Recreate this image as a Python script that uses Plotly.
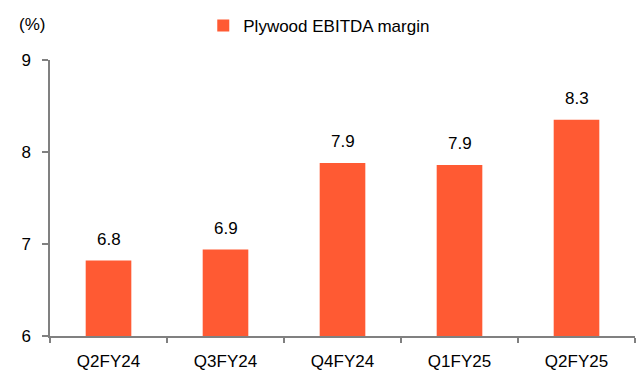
import plotly.graph_objects as go

# Quarterly plywood EBITDA margin (%)
quarters = ["Q2FY24", "Q3FY24", "Q4FY24", "Q1FY25", "Q2FY25"]
margin_pct = [6.82, 6.94, 7.88, 7.86, 8.35]
y_ticks = [6, 7, 8, 9]

BAR_COLOR = "#FF5A33"
AXIS_COLOR = "#808080"
FONT = "Liberation Sans, Arial, sans-serif"
FSIZE = 17

fig = go.Figure()
fig.add_trace(go.Bar(
    x=quarters,
    y=margin_pct,
    name="Plywood EBITDA margin",
    marker=dict(color=BAR_COLOR, line=dict(width=0)),
    width=0.39,
    showlegend=True,
))

# Value labels above each bar, rounded to one decimal
for q, v in zip(quarters, margin_pct):
    fig.add_annotation(
        x=q, y=v, text=f"{v:.1f}", showarrow=False,
        xref="x", yref="y", yanchor="bottom", yshift=10,
        font=dict(family=FONT, size=FSIZE, color="#000000"),
    )

# Unit label above the y axis
fig.add_annotation(
    x=-0.0564, y=1.13, xref="paper", yref="paper",
    xanchor="left", yanchor="middle", text="(%)", showarrow=False,
    font=dict(family=FONT, size=FSIZE, color="#000000"),
)

fig.update_layout(
    width=642, height=378,
    margin=dict(l=50, r=7, t=60, b=34),
    paper_bgcolor="white", plot_bgcolor="white",
    font=dict(family=FONT, size=FSIZE, color="#000000"),
    bargap=0.61,
    legend=dict(
        orientation="h", x=0.262, xanchor="left", y=1.123, yanchor="middle",
        font=dict(family=FONT, size=FSIZE, color="#000000"),
        bgcolor="rgba(0,0,0,0)",
    ),
    xaxis=dict(
        type="category",
        showline=True, linecolor=AXIS_COLOR, linewidth=1.5,
        ticks="outside", tickson="boundaries", ticklen=5,
        tickcolor=AXIS_COLOR, tickwidth=1.5,
        ticklabelstandoff=9,
        showgrid=False, zeroline=False,
        tickfont=dict(family=FONT, size=FSIZE, color="#000000"),
    ),
    yaxis=dict(
        range=[6, 9], tickvals=y_ticks,
        showline=True, linecolor=AXIS_COLOR, linewidth=1.5,
        ticks="outside", ticklen=6, tickcolor=AXIS_COLOR, tickwidth=1.5,
        ticklabelstandoff=8,
        showgrid=False, zeroline=False,
        tickfont=dict(family=FONT, size=FSIZE, color="#000000"),
    ),
)

fig.write_html("out.html")
